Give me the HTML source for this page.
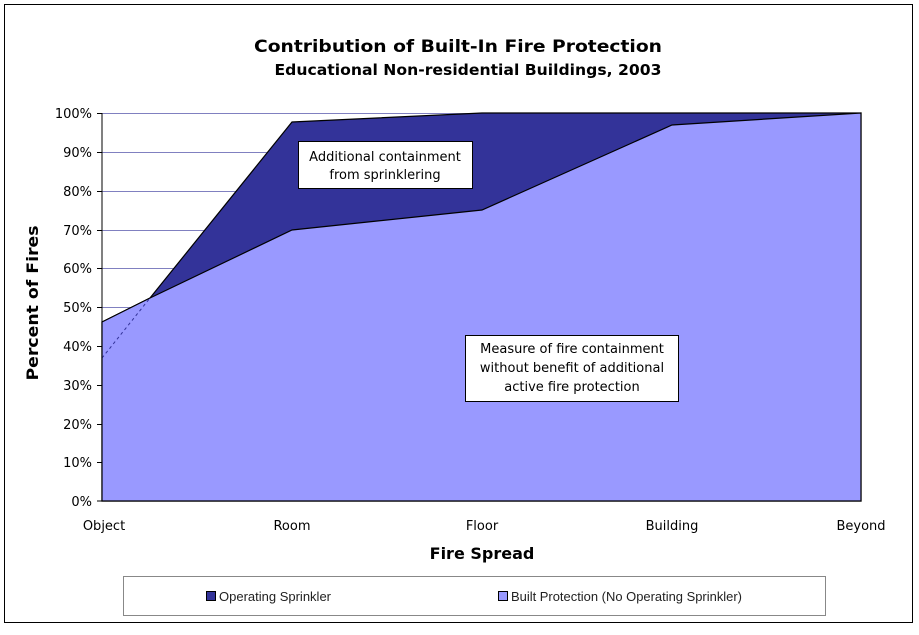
<!DOCTYPE html>
<html><head><style>body{margin:0;background:#fff}svg{display:block}</style></head><body>
<svg width="919" height="635" xmlns="http://www.w3.org/2000/svg" font-family="'DejaVu Sans', sans-serif">
<rect x="0" y="0" width="919" height="635" fill="#fff"/>
<rect x="4.5" y="4.5" width="908" height="618" fill="none" stroke="#000" stroke-width="1"/>
<text x="458" y="52" text-anchor="middle" font-size="17" font-weight="bold" textLength="408" lengthAdjust="spacingAndGlyphs">Contribution of Built-In Fire Protection</text>
<text x="468" y="75" text-anchor="middle" font-size="15" font-weight="bold" textLength="387" lengthAdjust="spacingAndGlyphs">Educational Non-residential Buildings, 2003</text>
<g stroke="#8080c0" stroke-width="1">
<line x1="102" x2="861" y1="113.5" y2="113.5"/><line x1="102" x2="861" y1="152.5" y2="152.5"/><line x1="102" x2="861" y1="191.5" y2="191.5"/><line x1="102" x2="861" y1="230.5" y2="230.5"/><line x1="102" x2="861" y1="268.5" y2="268.5"/><line x1="102" x2="861" y1="307.5" y2="307.5"/><line x1="102" x2="861" y1="346.5" y2="346.5"/><line x1="102" x2="861" y1="385.5" y2="385.5"/><line x1="102" x2="861" y1="424.5" y2="424.5"/><line x1="102" x2="861" y1="462.5" y2="462.5"/>
</g>
<polygon points="102,322 150,298 292,122 482,113 672,113 861,113 861,501 102,501" fill="#333399" stroke="#000" stroke-width="1.2"/>
<polygon points="102,322 150,298 292,230 482,210 672,125 861,113 861,501 102,501" fill="#9999ff" stroke="#000" stroke-width="1.2"/>
<line x1="102" y1="358" x2="150" y2="298" stroke="#333399" stroke-dasharray="3,3" stroke-width="1"/>
<line x1="102" y1="113" x2="102" y2="501" stroke="#000"/>
<line x1="102" y1="501" x2="861" y2="501" stroke="#000"/>
<g stroke="#000"><line x1="97" x2="102" y1="113.5" y2="113.5"/><line x1="97" x2="102" y1="152.5" y2="152.5"/><line x1="97" x2="102" y1="191.5" y2="191.5"/><line x1="97" x2="102" y1="230.5" y2="230.5"/><line x1="97" x2="102" y1="268.5" y2="268.5"/><line x1="97" x2="102" y1="307.5" y2="307.5"/><line x1="97" x2="102" y1="346.5" y2="346.5"/><line x1="97" x2="102" y1="385.5" y2="385.5"/><line x1="97" x2="102" y1="424.5" y2="424.5"/><line x1="97" x2="102" y1="462.5" y2="462.5"/><line x1="97" x2="102" y1="501" y2="501"/></g>
<g font-size="13" text-anchor="end">
<text x="92" y="118">100%</text><text x="92" y="157">90%</text><text x="92" y="196">80%</text><text x="92" y="235">70%</text><text x="92" y="273">60%</text><text x="92" y="312">50%</text><text x="92" y="351">40%</text><text x="92" y="390">30%</text><text x="92" y="429">20%</text><text x="92" y="467">10%</text><text x="92" y="506">0%</text>
</g>
<g font-size="13" text-anchor="middle">
<text x="104" y="530">Object</text><text x="292" y="530">Room</text><text x="482" y="530">Floor</text><text x="672" y="530">Building</text><text x="861" y="530">Beyond</text>
</g>
<text x="482" y="559" text-anchor="middle" font-size="16" font-weight="bold">Fire Spread</text>
<text transform="translate(38,303) rotate(-90)" text-anchor="middle" font-size="16" font-weight="bold" textLength="155" lengthAdjust="spacingAndGlyphs">Percent of Fires</text>
<rect x="298.5" y="141.5" width="174" height="47" fill="#fff" stroke="#000"/>
<text x="385" y="161" text-anchor="middle" font-size="13">Additional containment</text>
<text x="385" y="179" text-anchor="middle" font-size="13">from sprinklering</text>
<rect x="465.5" y="335.5" width="213" height="66" fill="#fff" stroke="#000"/>
<text x="572" y="353" text-anchor="middle" font-size="13">Measure of fire containment</text>
<text x="572" y="372" text-anchor="middle" font-size="13">without benefit of additional</text>
<text x="572" y="391" text-anchor="middle" font-size="13">active fire protection</text>
<rect x="123.5" y="576.5" width="702" height="39" fill="#fff" stroke="#888"/>
<rect x="206.5" y="591.5" width="9" height="9" fill="#333399" stroke="#000"/>
<text x="219" y="601" font-size="13" font-family="'Liberation Sans', sans-serif" fill="#222" textLength="112" lengthAdjust="spacingAndGlyphs">Operating Sprinkler</text>
<rect x="498.5" y="591.5" width="9" height="9" fill="#9999ff" stroke="#000"/>
<text x="511" y="601" font-size="13" font-family="'Liberation Sans', sans-serif" fill="#222" textLength="231" lengthAdjust="spacingAndGlyphs">Built Protection (No Operating Sprinkler)</text>
</svg>
</body></html>
